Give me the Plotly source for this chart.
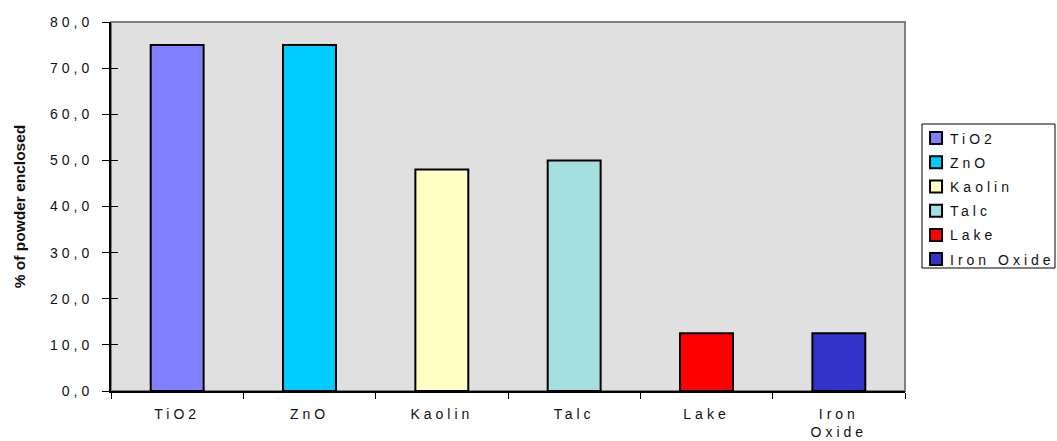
import plotly.graph_objects as go

# Powder enclosure data
categories = ["TiO2", "ZnO", "Kaolin", "Talc", "Lake", "Iron Oxide"]
axis_labels = ["TiO2", "ZnO", "Kaolin", "Talc", "Lake", "Iron<br>Oxide"]
values = [75.0, 75.0, 48.0, 50.0, 12.5, 12.5]
colors = ["#8080ff", "#00ccff", "#ffffc4", "#a4e0e0", "#ff0000", "#3333cc"]
y_ticks = [0, 10, 20, 30, 40, 50, 60, 70, 80]
y_tick_text = ["0,0", "10,0", "20,0", "30,0", "40,0", "50,0", "60,0", "70,0", "80,0"]

FONT = "Liberation Sans, Arial, sans-serif"
TEXT = "#111111"

fig = go.Figure()
for i, (name, val, col) in enumerate(zip(categories, values, colors)):
    fig.add_trace(go.Bar(
        x=[axis_labels[i]], y=[val], name=name,
        marker=dict(color=col, line=dict(color="black", width=2)),
        width=0.4, legendgroup=name,
    ))

# invisible helper trace so the inner tick marks of the value axis are drawn
fig.add_trace(go.Scatter(x=[axis_labels[0]], y=[0], yaxis="y2", mode="markers",
                         marker=dict(opacity=0), showlegend=False, hoverinfo="skip"))

fig.update_layout(
    width=1057, height=441,
    margin=dict(l=111, r=152, t=22, b=50),
    paper_bgcolor="white",
    plot_bgcolor="#e0e0e0",
    barmode="overlay",
    font=dict(family=FONT, size=14, color=TEXT),
    showlegend=True,
    legend=dict(
        x=1.0139, y=0.7276, xanchor="left", yanchor="top",
        bgcolor="rgba(0,0,0,0)", borderwidth=0,
        font=dict(family=FONT, size=14, color=TEXT),
        tracegroupgap=3, itemwidth=30,
    ),
    xaxis=dict(
        categoryorder="array", categoryarray=axis_labels,
        showline=True, linecolor="black", linewidth=2,
        ticks="outside", tickson="boundaries", ticklen=6, tickcolor="black", tickwidth=1,
        showgrid=False, ticklabelstandoff=9, automargin=False,
        tickfont=dict(family=FONT, size=14, color=TEXT),
    ),
    yaxis=dict(
        range=[0, 80], tickvals=y_ticks, ticktext=y_tick_text,
        showline=True, linecolor="black", linewidth=2,
        ticks="outside", ticklen=7, tickcolor="black", tickwidth=1,
        showgrid=False, zeroline=False, ticklabelstandoff=6, automargin=False,
        tickfont=dict(family=FONT, size=14, color=TEXT),
        title=dict(text="<b>% of powder enclosed</b>", standoff=37,
                   font=dict(family=FONT, size=15.5, color=TEXT)),
    ),
    yaxis2=dict(
        overlaying="y", side="left", range=[0, 80], tickvals=y_ticks,
        showticklabels=False, ticks="inside", ticklen=7, tickcolor="black",
        showgrid=False, zeroline=False, showline=False, automargin=False,
    ),
    shapes=[
        # plot area frame
        dict(type="rect", xref="paper", yref="paper", x0=0, x1=1, y0=0, y1=1,
             line=dict(color="#808080", width=2), layer="below"),
        # legend box
        dict(type="rect", xref="paper", yref="paper", x0=1.0214, x1=1.1889,
             y0=0.3333, y1=0.7236, line=dict(color="black", width=1),
             fillcolor="white", layer="below"),
    ],
)

# spaced-out lettering for tick labels and legend entries
post = """
var s = document.createElement('style');
s.textContent = '.xtick text, .ytick text, .legendtext {letter-spacing: 4px;}' +
                '.legendtext {transform: translate(-6px, 0);}' +
                '.legend .scrollbox {clip-path: none !important;}' +
                '.legend {overflow: visible;}';
document.head.appendChild(s);
"""

fig.write_html("out.html", post_script=post)
